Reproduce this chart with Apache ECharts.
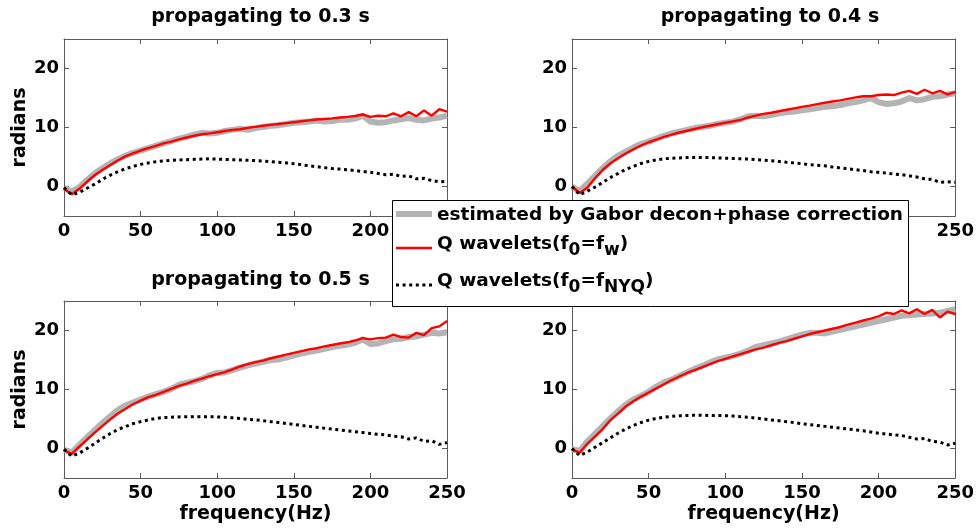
<!DOCTYPE html>
<html>
<head>
<meta charset="utf-8">
<script src="https://cdn.jsdelivr.net/npm/echarts@6/dist/echarts.min.js"></script>
<style>
  html, body { margin: 0; padding: 0; background: #fff; }
  #chart { width: 977px; height: 531px; }
</style>
</head>
<body>
<div id="chart"></div>
<script>
// Frequency samples (Hz) shared by every curve
const freq = [
  0, 5, 10, 15, 20, 25, 30, 35, 40, 45,
  50, 55, 60, 65, 70, 75, 80, 85, 90, 95,
  100, 105, 110, 115, 120, 125, 130, 135, 140, 145,
  150, 155, 160, 165, 170, 175, 180, 185, 190, 195,
  200, 205, 210, 215, 220, 225, 230, 235, 240, 245,
  250
];

const xTicks = [0, 50, 100, 150, 200, 250];
const yTicks = [0, 10, 20];

const panelTitles = ['propagating to 0.3 s', 'propagating to 0.4 s', 'propagating to 0.5 s', ''];

const seriesNames = ['estimated by Gabor decon+phase correction', 'Q wavelets(f0=fw)', 'Q wavelets(f0=fNYQ)'];

// ---- 0.3 s ----
const gabor03 = [
  -0.2, -0.9, -0.1, 1.1, 2.2, 3.1, 3.9, 4.6, 5.2, 5.7,
  6.1, 6.5, 6.9, 7.3, 7.7, 8.1, 8.4, 8.8, 9.1, 9.0,
  9.1, 9.4, 9.6, 9.8, 9.6, 9.9, 10.1, 10.3, 10.4, 10.6,
  10.8, 10.9, 11.0, 11.2, 11.0, 11.1, 11.3, 11.3, 11.5, 12.0,
  11.0, 10.8, 10.9, 11.2, 11.4, 11.6, 11.3, 11.2, 11.5, 11.7,
  12.0
];
const qw03 = [
  -0.4, -1.3, -0.4, 0.8, 1.9, 2.8, 3.6, 4.4, 5.1, 5.6,
  6.1, 6.5, 6.9, 7.3, 7.6, 8.0, 8.3, 8.6, 8.85, 9.0,
  9.2, 9.4, 9.6, 9.7, 9.95, 10.1, 10.3, 10.45, 10.6, 10.75,
  10.9, 11.05, 11.2, 11.35, 11.45, 11.55, 11.7, 11.8, 11.95, 12.2,
  11.8, 12.0, 11.9, 12.4, 11.9, 12.6, 11.9, 12.9, 12.0, 13.1,
  12.7
];
const qnyq03 = [
  -0.2, -1.4, -1.0, -0.3, 0.4, 1.2, 1.9, 2.5, 3.0, 3.4,
  3.75, 4.0, 4.2, 4.35, 4.45, 4.5, 4.55, 4.6, 4.65, 4.7,
  4.65, 4.6, 4.55, 4.5, 4.45, 4.4, 4.3, 4.2, 4.1, 4.0,
  3.85, 3.7, 3.5, 3.35, 3.2, 3.05, 2.95, 2.85, 2.7, 2.55,
  2.4, 2.2, 2.0, 2.1, 1.7, 1.8, 1.3, 1.4, 1.0, 0.8,
  0.9
];

// ---- 0.4 s ----
const gabor04 = [
  0.0, -0.8, 0.5, 1.8, 3.1, 4.3, 5.2, 5.9, 6.6, 7.2,
  7.6, 8.1, 8.6, 9.0, 9.3, 9.6, 9.9, 10.1, 10.3, 10.6,
  10.8, 11.0, 11.4, 11.9, 12.0, 11.9, 12.1, 12.4, 12.6, 12.7,
  12.9, 13.1, 13.3, 13.5, 13.6, 13.8, 14.1, 14.3, 14.6, 15.0,
  14.3, 14.0, 14.1, 14.4, 15.0, 14.6, 14.8, 15.2, 15.3, 15.6,
  15.8
];
const qw04 = [
  0.0, -1.1, -0.2, 1.4, 2.8, 3.9, 4.8, 5.6, 6.3, 6.95,
  7.5, 7.95, 8.4, 8.8, 9.15, 9.45, 9.75, 10.05, 10.3, 10.55,
  10.8, 11.05, 11.3, 11.7, 12.0, 12.3, 12.5, 12.75, 13.0, 13.25,
  13.5, 13.7, 13.95, 14.2, 14.4, 14.6, 14.85, 15.1, 15.3, 15.3,
  15.5, 15.6, 15.5, 15.9, 16.2, 15.7, 16.4, 15.8, 16.2, 15.6,
  16.0
];
const qnyq04 = [
  0.0, -1.4, -0.8, -0.1, 0.7, 1.5, 2.2, 2.9, 3.4, 3.9,
  4.25, 4.5, 4.7, 4.8, 4.85, 4.9, 4.9, 4.9, 4.9, 4.85,
  4.8, 4.75, 4.7, 4.65, 4.55, 4.45, 4.35, 4.25, 4.1, 4.0,
  3.85, 3.7, 3.6, 3.5, 3.3, 3.15, 3.0, 2.85, 2.7, 2.5,
  2.4, 2.3, 2.1, 2.0, 1.8, 1.6, 1.3, 1.2, 0.7, 0.8,
  0.7
];

// ---- 0.5 s ----
const gabor05 = [
  -0.2, -0.7, 0.6, 1.9, 3.1, 4.3, 5.4, 6.5, 7.3, 7.8,
  8.3, 8.8, 9.2, 9.6, 10.1, 10.8, 11.1, 11.4, 11.8, 12.4,
  12.8, 12.9, 13.3, 13.7, 14.1, 14.4, 14.7, 15.0, 15.1, 15.4,
  15.8, 16.1, 16.4, 16.6, 16.9, 17.2, 17.4, 17.6, 17.9, 18.5,
  17.7, 17.8, 18.2, 18.5, 18.6, 18.9, 19.0, 19.3, 19.6, 19.5,
  19.7
];
const qw05 = [
  -0.3, -0.9, 0.3, 1.5, 2.7, 3.8, 4.9, 5.9, 6.7, 7.5,
  8.1, 8.7, 9.1, 9.6, 10.1, 10.6, 11.0, 11.45, 11.85, 12.25,
  12.6, 12.95, 13.4, 13.9, 14.3, 14.65, 14.9, 15.3, 15.6, 15.9,
  16.2, 16.5, 16.8, 17.0, 17.3, 17.55, 17.8, 18.0, 18.3, 18.7,
  18.5, 18.7, 18.8, 19.3, 18.9, 18.8, 19.6, 19.2, 20.4, 20.7,
  21.6
];
const qnyq05 = [
  -0.1, -1.3, -0.8, 0.0, 0.85, 1.7, 2.5, 3.2, 3.7, 4.2,
  4.55, 4.85, 5.1, 5.25, 5.3, 5.35, 5.4, 5.4, 5.4, 5.4,
  5.35, 5.3, 5.2, 5.1, 4.95, 4.85, 4.7, 4.55, 4.4, 4.25,
  4.1, 3.9, 3.75, 3.6, 3.45, 3.3, 3.15, 3.0, 2.85, 2.7,
  2.55, 2.4, 2.3, 2.1, 2.0, 1.6, 1.8, 1.2, 1.3, 0.7,
  1.0
];

// ---- 0.6 s ----
const gabor06 = [
  -0.1, -0.4, 1.2, 2.5, 3.8, 5.1, 6.3, 7.4, 8.3, 8.9,
  9.6, 10.5, 11.2, 11.7, 12.3, 12.9, 13.5, 14.0, 14.6, 15.1,
  15.4, 15.7, 16.1, 16.6, 17.2, 17.5, 17.8, 18.1, 18.5, 18.9,
  19.3, 19.6, 19.6, 19.5, 19.8, 20.1, 20.4, 20.7, 21.0, 21.3,
  21.6, 21.9, 22.2, 22.5, 22.6, 22.7, 22.8, 22.9, 23.0, 23.3,
  23.6
];
const qw06 = [
  -0.2, -0.7, 0.8, 2.0, 3.3, 4.8, 5.9, 7.1, 8.0, 8.8,
  9.5, 10.2, 10.9, 11.6, 12.2, 12.8, 13.3, 13.8, 14.3, 14.8,
  15.2, 15.6, 16.0, 16.4, 16.8, 17.1, 17.5, 17.9, 18.2, 18.6,
  19.0, 19.4, 19.7, 20.0, 20.3, 20.6, 21.0, 21.35, 21.7, 22.0,
  22.4, 23.0, 22.8, 23.4, 22.9, 23.6, 22.8, 23.5, 22.2, 23.2,
  22.8
];
const qnyq06 = [
  0.0, -1.2, -0.6, 0.2, 1.0, 1.8, 2.6, 3.3, 3.9, 4.4,
  4.8, 5.1, 5.3, 5.45, 5.55, 5.6, 5.65, 5.65, 5.6, 5.6,
  5.55, 5.5, 5.4, 5.3, 5.15, 5.0, 4.85, 4.7, 4.55, 4.4,
  4.2, 4.05, 3.9, 3.75, 3.6, 3.45, 3.3, 3.15, 3.0, 2.8,
  2.6, 2.45, 2.3, 2.2, 1.9, 1.6, 1.7, 1.2, 1.1, 0.6,
  0.9
];

const panelData = [
  [gabor03, qw03, qnyq03],
  [gabor04, qw04, qnyq04],
  [gabor05, qw05, qnyq05],
  [gabor06, qw06, qnyq06]
];

// ---- layout & styling ----
const FONT = 'DejaVu Sans';
const AXIS_COLOR = '#5a5a5a';
const GRAY = '#b4b4b4';
const RED = '#ff0000';

const grids = [
  { left: 64, top: 39, width: 383, height: 177 },
  { left: 572, top: 39, width: 386, height: 177 },
  { left: 64, top: 301, width: 383, height: 177 },
  { left: 572, top: 301, width: 386, height: 177 }
];

const lineStyles = [
  { color: GRAY, width: 6, join: 'round', cap: 'butt' },
  { color: RED, width: 2.4 },
  { color: '#000', width: 3, type: [3, 3.6], cap: 'butt' }
];

const labelStyle = { color: '#000', fontFamily: FONT, fontWeight: 'bold', fontSize: 18 };
const nameStyle = { color: '#000', fontFamily: FONT, fontWeight: 'bold', fontSize: 19 };

const xAxes = [], yAxes = [], series = [], titles = [];

grids.forEach((g, i) => {
  const isBottom = i >= 2;
  const isLeft = i % 2 === 0;
  const common = {
    type: 'value', gridIndex: i,
    axisLine: { show: true, onZero: false, lineStyle: { color: AXIS_COLOR, width: 1 } },
    axisTick: { show: true, inside: true, length: 5, lineStyle: { color: AXIS_COLOR } },
    splitLine: { show: false }
  };
  xAxes.push(Object.assign({}, common, {
    position: 'bottom', min: 0, max: 250, interval: 50,
    axisTick: Object.assign({}, common.axisTick, { customValues: xTicks }),
    axisLabel: Object.assign({ margin: 6, customValues: xTicks }, labelStyle),
    name: isBottom ? 'frequency(Hz)' : '', nameLocation: 'middle', nameGap: 27,
    nameTextStyle: nameStyle
  }));
  xAxes.push(Object.assign({}, common, {
    position: 'top', min: 0, max: 250, interval: 50,
    axisTick: Object.assign({}, common.axisTick, { customValues: xTicks }),
    axisLabel: { show: false }
  }));
  yAxes.push(Object.assign({}, common, {
    position: 'left', min: -5, max: 25,
    axisTick: Object.assign({}, common.axisTick, { customValues: yTicks }),
    axisLabel: Object.assign({ margin: 5, customValues: yTicks }, labelStyle),
    name: isLeft ? 'radians' : '', nameLocation: 'middle', nameGap: 34, nameRotate: 90,
    nameTextStyle: nameStyle
  }));
  yAxes.push(Object.assign({}, common, {
    position: 'right', min: -5, max: 25,
    axisTick: Object.assign({}, common.axisTick, { customValues: yTicks }),
    axisLabel: { show: false }
  }));

  panelData[i].forEach((vals, k) => {
    series.push({
      type: 'line', name: seriesNames[k],
      xAxisIndex: 2 * i, yAxisIndex: 2 * i,
      data: freq.map((f, j) => [f, vals[j]]),
      showSymbol: false, symbol: 'none', silent: true,
      lineStyle: lineStyles[k], z: 2 + k
    });
  });

  if (panelTitles[i]) {
    titles.push({
      text: panelTitles[i], left: g.left + g.width / 2, top: isBottom ? 266 : 3,
      textAlign: 'center',
      textStyle: { color: '#000', fontFamily: FONT, fontWeight: 'bold', fontSize: 19 }
    });
  }
});

// legend box with subscripted labels
const legendFont = { fontFamily: FONT, fontWeight: 'bold', fontSize: 18.5, fill: '#000' };
const rich = {
  n: { fontFamily: FONT, fontWeight: 'bold', fontSize: 18.5, lineHeight: 20, verticalAlign: 'top', color: '#000' },
  s: { fontFamily: FONT, fontWeight: 'bold', fontSize: 17, lineHeight: 20, padding: [7, 0, 0, 0], verticalAlign: 'top', color: '#000' }
};

const option = {
  animation: false,
  backgroundColor: '#fff',
  title: titles,
  grid: grids.map(g => Object.assign({ containLabel: false }, g)),
  xAxis: xAxes,
  yAxis: yAxes,
  series: series,
  graphic: [{
    type: 'group', z: 100,
    children: [
      { type: 'rect', z: 100, shape: { x: 392.5, y: 200.5, width: 516, height: 106 },
        style: { fill: '#fff', stroke: '#000', lineWidth: 1 } },
      { type: 'line', z: 101, shape: { x1: 396, y1: 214, x2: 432, y2: 214 },
        style: { stroke: GRAY, lineWidth: 6 } },
      { type: 'line', z: 101, shape: { x1: 396, y1: 248, x2: 432, y2: 248 },
        style: { stroke: RED, lineWidth: 2.4 } },
      { type: 'line', z: 101, shape: { x1: 396, y1: 285, x2: 432, y2: 285 },
        style: { stroke: '#000', lineWidth: 3, lineDash: [3, 3.6] } },
      { type: 'text', z: 101, x: 437, y: 215,
        style: Object.assign({ text: seriesNames[0], verticalAlign: 'middle' }, legendFont) },
      { type: 'text', z: 101, x: 437, y: 235,
        style: Object.assign({ text: '{n|Q wavelets(f}{s|0}{n|=f}{s|w}{n|)}', rich: rich, verticalAlign: 'top' }, legendFont) },
      { type: 'text', z: 101, x: 437, y: 272,
        style: Object.assign({ text: '{n|Q wavelets(f}{s|0}{n|=f}{s|NYQ}{n|)}', rich: rich, verticalAlign: 'top' }, legendFont) }
    ]
  }]
};

const chart = echarts.init(document.getElementById('chart'), null, { renderer: 'canvas' });
chart.setOption(option);
</script>
</body>
</html>
